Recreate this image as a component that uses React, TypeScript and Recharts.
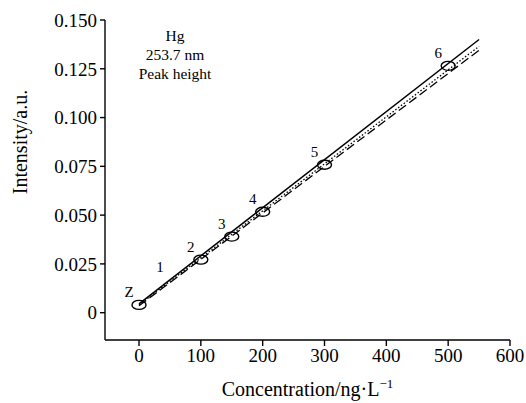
import { ComposedChart, XAxis, YAxis, Line, Scatter, LabelList, Label } from "recharts";

const serif = "Liberation Serif";

const xTicks = [0, 100, 200, 300, 400, 500, 600];
const yTicks = [0, 0.025, 0.05, 0.075, 0.1, 0.125, 0.15];

// fitted calibration lines, evaluated at both ends
const fitConc = [0, 550];
const solidFit = [0.0045, 0.14];
const dottedFit = [0.004, 0.1365];
const dashedFit = [0.0035, 0.1345];

// standards
const pointNames = ["Z", "1", "2", "3", "4", "5", "6"];
const pointConc = [0, 50, 100, 150, 200, 300, 500];
const pointIntensity = [0.004, 0.0165, 0.0272, 0.039, 0.0517, 0.0758, 0.1265];
const circled = ["Z", "2", "3", "4", "5", "6"];

const infoLines = ["Hg", "253.7 nm", "Peak height"];

const toLine = (vals: number[]) => fitConc.map((c, i) => ({ c, v: vals[i] }));

const points = pointNames.map((name, i) => ({
  name,
  c: pointConc[i],
  v: pointIntensity[i],
}));

const Ellipse = (p: any) =>
  circled.includes(p.payload?.name) ? (
    <ellipse cx={p.cx} cy={p.cy} rx={7} ry={4.5} fill="none" stroke="#000" strokeWidth={1.4} />
  ) : (
    <g />
  );

const PointLabel = (p: any) => (
  <text
    x={p.x + p.width / 2 - 10}
    y={p.y + p.height / 2 - 8}
    textAnchor="middle"
    style={{ fontFamily: serif, fontSize: 15 }}
    fill="#000"
  >
    {p.value}
  </text>
);

const tickStyle = { fontSize: 19, fill: "#000", style: { fontFamily: serif } };

export default function App() {
  return (
    <div
      style={{
        position: "absolute",
        left: 0,
        top: 0,
        width: 526,
        height: 403,
        background: "#fff",
        fontFamily: serif,
      }}
    >
      <ComposedChart
        width={526}
        height={403}
        margin={{ top: 20, right: 16, left: 0, bottom: 0 }}
        style={{ fontFamily: serif }}
      >
        <XAxis
          type="number"
          dataKey="c"
          domain={[-55, 600]}
          ticks={xTicks}
          allowDataOverflow
          height={63}
          tickSize={6}
          tickMargin={3}
          tick={tickStyle}
          stroke="#000"
          strokeWidth={1.4}
        >
          <Label
            content={({ viewBox }: any) => (
              <text
                x={viewBox.x + viewBox.width / 2}
                y={viewBox.y + 56}
                textAnchor="middle"
                style={{ fontFamily: serif, fontSize: 20 }}
                fill="#000"
              >
                Concentration/ng·L
                <tspan dy={-8} style={{ fontSize: 13 }}>−1</tspan>
              </text>
            )}
          />
        </XAxis>
        <YAxis
          type="number"
          dataKey="v"
          domain={[-0.014, 0.15]}
          ticks={yTicks}
          allowDataOverflow
          width={105}
          tickSize={5}
          tickMargin={3}
          tick={tickStyle}
          tickFormatter={(v: number) => (v === 0 ? "0" : v.toFixed(3))}
          stroke="#000"
          strokeWidth={1.4}
        >
          <Label
            content={() => (
              <text
                x={27}
                y={142}
                transform="rotate(-90, 27, 142)"
                textAnchor="middle"
                style={{ fontFamily: serif, fontSize: 20 }}
                fill="#000"
              >
                Intensity/a.u.
              </text>
            )}
          />
        </YAxis>
        <Line
          data={toLine(solidFit)}
          dataKey="v"
          stroke="#000"
          strokeWidth={1.5}
          dot={false}
          activeDot={false}
          isAnimationActive={false}
        />
        <Line
          data={toLine(dottedFit)}
          dataKey="v"
          stroke="#000"
          strokeWidth={1.3}
          strokeDasharray="1.5 2"
          dot={false}
          activeDot={false}
          isAnimationActive={false}
        />
        <Line
          data={toLine(dashedFit)}
          dataKey="v"
          stroke="#000"
          strokeWidth={1.3}
          strokeDasharray="9 4"
          dot={false}
          activeDot={false}
          isAnimationActive={false}
        />
        <Scatter data={points} dataKey="v" shape={Ellipse} isAnimationActive={false}>
          <LabelList dataKey="name" content={PointLabel} />
        </Scatter>
      </ComposedChart>
      <div
        style={{
          position: "absolute",
          left: 115,
          top: 26,
          width: 120,
          textAlign: "center",
          fontSize: 15.5,
          lineHeight: "19px",
          color: "#000",
        }}
      >
        {infoLines.map((t) => (
          <div key={t}>{t}</div>
        ))}
      </div>
    </div>
  );
}
